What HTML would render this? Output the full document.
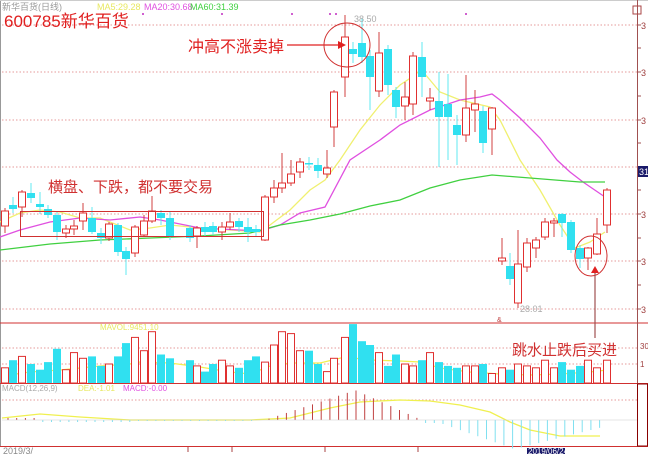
<!DOCTYPE html>
<html><head><meta charset="utf-8"><style>
html,body{margin:0;padding:0;background:#fff;width:648px;height:454px;overflow:hidden}
svg{display:block;font-family:"Liberation Sans","Noto Sans CJK SC",sans-serif}
</style></head><body>
<svg id="s" width="648" height="454" xmlns="http://www.w3.org/2000/svg">
<rect width="648" height="454" fill="#fff"/>
<g id="grid"></g>
<g id="ma"></g>
<g id="c"></g>
<g id="ann"></g>
</svg>
<script>
const NS="http://www.w3.org/2000/svg";
const s=document.getElementById('s');
function el(t,a,p){const e=document.createElementNS(NS,t);for(const k in a)e.setAttribute(k,a[k]);(p||s).appendChild(e);return e;}
function tx(x,y,str,a){const e=el('text',Object.assign({x:x,y:y},a));e.textContent=str;return e;}
const G=document.getElementById('grid');
// frame
el('line',{x1:0.5,y1:0,x2:0.5,y2:447,stroke:'#999'},G);
el('line',{x1:0,y1:0.5,x2:648,y2:0.5,stroke:'#ccc'},G);
[25,72,120,167,214,261,309].forEach(y=>el('line',{x1:2,y1:y,x2:637,y2:y,stroke:'#e08080','stroke-dasharray':'1.5,2',opacity:.8},G));
[348,364,400].forEach(y=>el('line',{x1:2,y1:y,x2:637,y2:y,stroke:'#e08080','stroke-dasharray':'1.5,2',opacity:.8},G));
el('line',{x1:0,y1:323,x2:648,y2:323,stroke:'#d03030'},G);
el('line',{x1:0,y1:383.5,x2:648,y2:383.5,stroke:'#d03030'},G);
el('line',{x1:0,y1:446.5,x2:648,y2:446.5,stroke:'#d03030'},G);
el('line',{x1:637.5,y1:0,x2:637.5,y2:447,stroke:'#a05050'},G);
el('rect',{x:637.5,y:384,width:10,height:62,fill:'none',stroke:'#800'},G);
el('rect',{x:633,y:6,width:8,height:8,fill:'none',stroke:'#a44'},G);
// right axis ticks
[25,48,72,96,120,143,167,190,214,238,261,285,309].forEach(y=>{el('line',{x1:637,y1:y,x2:641,y2:y,stroke:'#a05050'},G);});
[25,72,120,214,261,309].forEach(y=>tx(641,y+4,'3',{'font-size':9,fill:'#a04040'},G));
el('rect',{x:638,y:166,width:10,height:11,fill:'#1a1a6a'},G);
tx(639,175,'31',{'font-size':9,fill:'#fff'},G);
tx(640,349,'30',{'font-size':8,fill:'#a04040'},G);tx(640,367,'1',{'font-size':8,fill:'#a04040'},G);
// bottom dates
tx(3,454,'2019/3/',{'font-size':9,fill:'#888'},G);
[188,232,325,418].forEach(x=>el('line',{x1:x,y1:447,x2:x,y2:452,stroke:'#a44'},G));
el('rect',{x:527,y:448,width:38,height:6,fill:'#1a1a6a'},G);
tx(528,454,'2019/06/24',{'font-size':8,fill:'#fff'},G);
// candles: x, top, bottom, hi, lo, up(1 red hollow /0 cyan)
const C=[
[5,211,226,208,233,1],[13,205,209,197,213,0],[22,192,207,190,217,1],[31,193,198,183,203,0],[40,204,207,192,214,0],
[48,209,215,205,218,0],[57,215,232,212,240,0],[66,229,233,225,238,1],[74,226,229,220,235,1],[83,213,221,203,230,1],
[92,218,232,207,234,0],[101,233,238,228,244,0],[109,224,238,222,241,1],[118,225,252,223,256,0],[126,251,259,247,275,0],
[135,227,253,225,257,1],[144,221,235,215,237,1],[152,211,221,196,223,1],[161,213,218,210,225,0],[170,218,237,212,240,0],
[190,228,238,225,242,0],[197,228,236,226,248,1],[205,227,232,222,236,0],[213,226,232,222,235,0],[222,227,232,222,240,1],
[230,222,227,213,230,1],[239,221,227,218,232,0],[248,227,232,218,242,0],[256,229,232,225,237,0],[265,197,240,195,241,1],
[274,188,197,180,203,1],[282,183,188,153,193,1],[291,174,183,160,186,1],[300,162,172,158,178,1],[309,163,164,157,170,0],
[318,165,171,158,178,0],[327,168,174,150,178,1],[334,92,127,90,147,1],[345,37,77,15,97,1],[353,49,54,42,63,0],
[362,43,57,18,63,0],[370,56,77,50,110,0],[379,53,91,32,97,1],[388,49,85,45,95,0],[396,90,107,87,118,0],
[405,97,106,82,120,1],[413,56,104,52,115,1],[422,57,77,42,97,0],[430,98,101,88,110,1],[439,101,117,72,167,0],
[448,104,117,74,160,0],[457,125,135,115,165,0],[466,108,135,75,142,1],[475,104,110,90,132,1],[483,111,143,106,153,0],
[492,108,129,107,155,1],[502,258,261,238,265,1],[510,266,279,253,285,0],[518,264,303,230,308,1],[527,243,267,238,272,1],
[536,240,248,237,258,1],[545,222,237,218,240,1],[554,221,223,218,237,1],[562,214,223,213,237,0],[571,222,250,220,253,0],
[580,248,259,245,268,0],[588,248,258,247,270,1],[597,234,254,218,255,1],[607,190,225,188,233,1]];
const V=[8,12,14,10,7,11,18,7,16,13,14,9,10,14,21,24,17,27,15,13,12,9,6,10,12,9,8,12,14,11,20,27,26,17,17,10,6,13,24,31,22,20,16,9,15,10,9,12,16,11,9,8,9,9,10,5,8,7,10,9,8,12,8,11,7,9,12];
const CG=document.getElementById('c');
C.forEach((c,i)=>{const [x,t,b,h,l,u]=c;const col=u?'#e03030':'#30e0f0';
 el('line',{x1:x,y1:h,x2:x,y2:l,stroke:u?'#d04040':'#60e8f0','stroke-width':1},CG);
 const hh=Math.max(1.5,b-t);
 if(u)el('rect',{x:x-3.5,y:t,width:7,height:hh,fill:'#fff',stroke:col,'stroke-width':1},CG);
 else el('rect',{x:x-4,y:t,width:8,height:hh,fill:col},CG);
 const v=(V[i%V.length])*1.9;
 if(u)el('rect',{x:x-3.5,y:383-v,width:7,height:v,fill:'#fff',stroke:col},CG);
 else el('rect',{x:x-4,y:383-v,width:8,height:v,fill:col},CG);
 // macd
});
// macd bars
const MG=CG;
for(let x=8;x<608;x+=8.7){let v;
 if(x<40)v=2;else if(x<130)v=-2;else if(x<260)v=-1;else if(x<265)v=0;
 else if(x<355)v=Math.min(30,(x-265)*0.33);else if(x<420)v=Math.max(1,30-(x-355)*0.45);
 else if(x<440)v=-3;else if(x<515)v=-(3+(x-440)*0.35);else v=-Math.max(5,29-(x-515)*0.25);
 el('line',{x1:x,y1:420,x2:x,y2:420-v,stroke:v>0?'#c04040':'#80e0f0','stroke-width':1},MG);}
el('line',{x1:2,y1:420,x2:637,y2:420,stroke:'#ccc','stroke-width':0.6},MG);
const MA=document.getElementById('ma');
function pl(pts,col){el('polyline',{points:pts.map(p=>p.join(',')).join(' '),fill:'none',stroke:col,'stroke-width':1.3},MA);}
pl([[0,222],[20,213],[40,210],[60,212],[80,218],[100,218],[130,230],[150,228],[170,225],[200,228],[230,230],[260,232],[270,225],[290,210],[310,190],[325,180],[340,160],[360,130],[380,105],[400,85],[415,75],[420,70],[424,73],[430,80],[440,92],[460,100],[490,107],[500,120],[520,160],[540,190],[560,225],[575,248],[590,242],[605,232]],'#f0f070');
pl([[0,237],[20,230],[50,222],[80,218],[110,220],[140,217],[160,220],[200,228],[240,230],[260,231],[280,225],[300,213],[325,207],[350,160],[380,140],[400,125],[430,110],[460,100],[480,97],[492,94],[500,100],[520,118],[540,138],[557,160],[570,172],[583,182],[605,197]],'#e050e0');
pl([[0,250],[50,244],[100,240],[150,238],[200,236],[250,233],[280,225],[310,220],[340,214],[370,206],[400,200],[430,188],[460,180],[492,175],[530,178],[580,182],[605,182]],'#40d040');
pl([[2,376],[30,372],[60,370],[100,366],[130,364],[140,362],[170,363],[200,367],[230,372],[250,374],[270,366],[290,363],[320,363],[345,357],[370,360],[400,361],[420,362],[440,368],[470,372],[500,374],[530,375],[560,374],[590,372],[607,370]],'#f0f050');
pl([[2,418],[40,414],[80,417],[130,420],[200,420],[250,420],[290,418],[330,408],[360,402],[400,400],[430,401],[460,405],[490,412],[510,422],[530,430],[560,436],[600,436]],'#f0f050');
const A=document.getElementById('ann');
tx(2,10,'新华百货(日线)',{'font-size':9,fill:'#999'},A);
tx(97,10,'MA5:29.28',{'font-size':9,fill:'#e8e860'},A);
tx(144,10,'MA20:30.68',{'font-size':9,fill:'#e050e0'},A);
tx(190,10,'MA60:31.39',{'font-size':9,fill:'#40d040'},A);
[143,222,292,330,336,466].forEach(x=>el('rect',{x:x-1,y:13,width:2,height:2,fill:'#d060d0'},A));
tx(4,27,'600785新华百货',{'font-size':17,fill:'#e02020'},A);
tx(188,52,'冲高不涨卖掉',{'font-size':16,fill:'#e02020'},A);
el('line',{x1:287,y1:45,x2:342,y2:45,stroke:'#e02020','stroke-width':1.2},A);
el('polygon',{points:'346,45 338,41 338,49',fill:'#e02020'},A);
el('ellipse',{cx:347,cy:45,rx:23,ry:22,fill:'none',stroke:'#d03030'},A);
tx(354,22,'38.50',{'font-size':9,fill:'#aaa'},A);
el('rect',{x:20.5,y:211.5,width:243,height:25,fill:'none',stroke:'#d03030'},A);
tx(48,192,'横盘、下跌，都不要交易',{'font-size':15,fill:'#d03030'},A);
el('ellipse',{cx:591,cy:256,rx:16,ry:20,fill:'none',stroke:'#d03030'},A);
el('line',{x1:595,y1:338,x2:595,y2:270,stroke:'#a05050','stroke-width':1.2},A);
el('polygon',{points:'595,266 591,273 599,273',fill:'#e02020'},A);
tx(512,355,'跳水止跌后买进',{'font-size':15,fill:'#d03030'},A);
tx(520,312,'28.01',{'font-size':9,fill:'#aaa'},A);
tx(497,322,'&',{'font-size':7,fill:'#c04040'},A);
tx(100,330,'MAVOL:9451.10',{'font-size':8,fill:'#e8e860'},A);
tx(2,391,'MACD(12,26,9)',{'font-size':8,fill:'#aaa'},A);
tx(78,391,'DEA:-1.01',{'font-size':8,fill:'#e8e860'},A);
tx(123,391,'MACD:-0.00',{'font-size':8,fill:'#e050e0'},A);
</script>
</body></html>
